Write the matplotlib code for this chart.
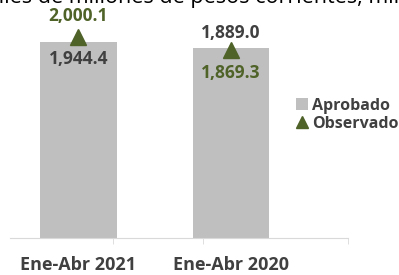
import numpy as np
import matplotlib.pyplot as plt
from matplotlib.lines import Line2D

# data
categories = ['Ene-Abr 2021', 'Ene-Abr 2020']
aprobado = [1944.4, 1889.0]
observado = [2000.1, 1869.3]
title_txt = '(Miles de millones de pesos corrientes, millones)'

gray = '#BFBFBF'
green = '#4F6228'
dark = '#404040'

plt.rcParams['font.family'] = ['Open Sans', 'DejaVu Sans']

fig = plt.figure(figsize=(3.99, 2.75), dpi=100)
W, H = 399, 275
ax = fig.add_axes([10 / W, 37 / H, 338 / W, 238 / H])

x = np.arange(len(categories))
bars = ax.bar(x, aprobado, width=0.5, color=gray, label='Aprobado', zorder=2)
ax.plot(x, observado, linestyle='none', marker='^', markersize=12,
        color=green, zorder=3)

ax.set_xlim(-0.449, 1.767)
ax.set_ylim(0, 2363)

fs = 12.5
# value labels
ax.annotate('{:,.1f}'.format(aprobado[0]), xy=(x[0], aprobado[0]), xytext=(0, -12),
            textcoords='offset points', ha='center', va='center',
            fontsize=fs, fontweight='bold', color=dark)
ax.annotate('{:,.1f}'.format(observado[0]), xy=(x[0], observado[0]), xytext=(0, 15),
            textcoords='offset points', ha='center', va='center',
            fontsize=fs, fontweight='bold', color=green)
ax.annotate('{:,.1f}'.format(aprobado[1]), xy=(x[1], observado[1]), xytext=(0, 12),
            textcoords='offset points', ha='center', va='center',
            fontsize=fs, fontweight='bold', color=dark)
ax.annotate('{:,.1f}'.format(observado[1]), xy=(x[1], observado[1]), xytext=(0, -17),
            textcoords='offset points', ha='center', va='center',
            fontsize=fs, fontweight='bold', color=green)

# axes styling
for s in ['top', 'right', 'left']:
    ax.spines[s].set_visible(False)
ax.spines['bottom'].set_color('#D9D9D9')
ax.set_yticks([])
ax.set_xticks(x)
ax.set_xticklabels(categories, fontsize=13, fontweight='bold', color=dark)
ax.tick_params(axis='x', which='major', length=0, pad=13)
ax.set_xticks([0.226, 0.817, 1.767], minor=True)
ax.tick_params(axis='x', which='minor', length=4, color='#D9D9D9')

# legend
obs_handle = Line2D([], [], linestyle='none', marker='^', markersize=9, color=green, label='Observado')
leg = fig.legend(handles=[bars, obs_handle], loc='center left', bbox_to_anchor=(296 / W, 1 - 115 / H),
                 frameon=False, handlelength=0.75, handleheight=0.75, handletextpad=0.25,
                 labelspacing=0.15, borderaxespad=0, borderpad=0,
                 prop={'size': 11.5, 'weight': 'bold'})
for t in leg.get_texts():
    t.set_color(dark)

# clipped title at top
fig.text(-27 / W, 1 - 3 / H, title_txt, ha='left', va='baseline', fontsize=15.5, color='black')

plt.savefig('out.png', dpi=100)
